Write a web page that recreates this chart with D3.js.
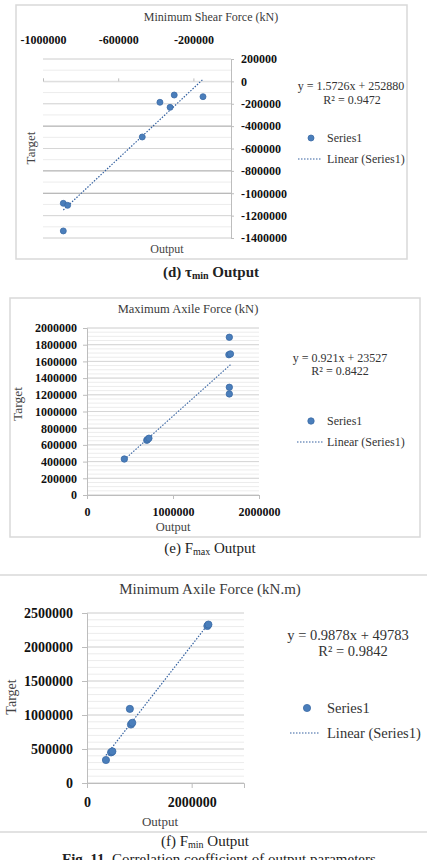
<!DOCTYPE html>
<html>
<head>
<meta charset="utf-8">
<script src="https://cdn.jsdelivr.net/npm/d3@7"></script>
<style>
  body { margin: 0; background: #fff; }
  svg { display: block; font-family: "Liberation Serif", "Times New Roman", serif; }
  .tick text { font-family: "Liberation Serif", "Times New Roman", serif; font-weight: bold; fill: #111; }
</style>
</head>
<body>
<div id="chart"></div>
<script>
// (d) Minimum shear force
const shearOutput = [-892000, -869000, -892000, -472000, -378000, -324000, -302000, -149000];
const shearTarget = [-1090000, -1108000, -1337000, -497000, -187000, -232000, -122000, -137000];
const shearXTicks = [-1000000, -600000, -200000];
const shearYTicks = [200000, 0, -200000, -400000, -600000, -800000, -1000000, -1200000, -1400000];
const shearFit = [1.5726, 252880];
const shearR2 = 0.9472;

// (e) Maximum axile force
const maxOutput = [434000, 695000, 705000, 720000, 1655000, 1650000, 1668000, 1655000, 1655000];
const maxTarget = [431000, 655000, 665000, 680000, 1889000, 1680000, 1690000, 1290000, 1210000];
const maxXTicks = [0, 1000000, 2000000];
const maxYTicks = [0, 200000, 400000, 600000, 800000, 1000000, 1200000, 1400000, 1600000, 1800000, 2000000];
const maxFit = [0.921, 23527];
const maxR2 = 0.8422;

// (f) Minimum axile force
const minOutput = [362000, 460000, 485000, 819000, 840000, 865000, 2300000, 2320000];
const minTarget = [338000, 450000, 465000, 1090000, 860000, 885000, 2310000, 2330000];
const minXTicks = [0, 2000000];
const minYTicks = [0, 500000, 1000000, 1500000, 2000000, 2500000];
const minFit = [0.9878, 49783];
const minR2 = 0.9842;

const W = 427, H = 860;
const dotFill = "#4a7ebb", dotStroke = "#3b6ba6", trendColor = "#3461a0";

const svg = d3.select("#chart").append("svg")
  .attr("width", W)
  .attr("height", H);

function styleAxis(axisG, size, domainColor) {
  axisG.attr("font-family", null).attr("font-size", null);
  axisG.select(".domain").attr("stroke", domainColor);
  axisG.selectAll(".tick line").attr("stroke", "#bdbdbd");
  axisG.selectAll("text").style("font-size", size + "px");
}

function drawPanel(c) {
  const x = d3.scaleLinear().domain(c.xDomain).range([c.left, c.right]);
  const y = d3.scaleLinear().domain(c.yDomain).range([c.bottom, c.top]);
  const g = svg.append("g");

  // outer frame
  g.append("rect")
    .attr("x", c.frame[0]).attr("y", c.frame[1])
    .attr("width", c.frame[2] - c.frame[0]).attr("height", c.frame[3] - c.frame[1])
    .attr("fill", "none").attr("stroke", "#d9d9d9").attr("stroke-width", 1.5);

  // gridlines, minor then major
  g.append("g").selectAll("line")
    .data(d3.range(c.yDomain[0], c.yDomain[1] + 1, c.minor))
    .join("line")
    .attr("x1", c.left).attr("x2", c.right)
    .attr("y1", d => y(d)).attr("y2", d => y(d))
    .attr("stroke", "#ececec");
  g.append("g").selectAll("line")
    .data(c.yTicks)
    .join("line")
    .attr("x1", c.left).attr("x2", c.right)
    .attr("y1", d => y(d)).attr("y2", d => y(d))
    .attr("stroke", d => (c.darkGrid || []).includes(d) ? "#a8a8a8" : "#d6d6d6");

  const fmt = d => String(d);

  if (c.flipped) {
    // x axis crosses at y = 0, labels pushed up above the plot
    const y0 = y(0);
    const xAxisG = g.append("g")
      .attr("transform", `translate(0,${y0})`)
      .call(d3.axisTop(x).tickValues(c.xTicks).tickSize(3).tickFormat(fmt));
    styleAxis(xAxisG, c.tickSize, "#e2e2e2");
    xAxisG.selectAll("text").attr("y", c.xLabelY - y0).attr("dy", "0.35em");

    const yAxisG = g.append("g")
      .attr("transform", `translate(${c.right},0)`)
      .call(d3.axisRight(y).tickValues(c.yTicks).tickSize(3).tickPadding(7).tickFormat(fmt));
    styleAxis(yAxisG, c.tickSize, "#bdbdbd");
  } else {
    const xAxisG = g.append("g")
      .attr("transform", `translate(0,${c.bottom})`)
      .call(d3.axisBottom(x).tickValues(c.xTicks).tickSize(c.tickLen).tickPadding(c.xPad).tickFormat(fmt));
    styleAxis(xAxisG, c.tickSize, "#bdbdbd");

    const yAxisG = g.append("g")
      .attr("transform", `translate(${c.left},0)`)
      .call(d3.axisLeft(y).tickValues(c.yTicks).tickSize(c.tickLen).tickPadding(c.yPad).tickFormat(fmt));
    styleAxis(yAxisG, c.tickSize, "#bdbdbd");
  }

  // linear trendline over the data range
  const [a, b] = c.fit;
  const xr = d3.extent(c.xs);
  g.append("line")
    .attr("x1", x(xr[0])).attr("y1", y(a * xr[0] + b))
    .attr("x2", x(xr[1])).attr("y2", y(a * xr[1] + b))
    .attr("stroke", trendColor).attr("stroke-width", 1.2)
    .attr("stroke-dasharray", "1.5,1.5");

  // points
  g.append("g").selectAll("circle")
    .data(d3.zip(c.xs, c.ys))
    .join("circle")
    .attr("cx", d => x(d[0]))
    .attr("cy", d => y(d[1]))
    .attr("r", c.r)
    .attr("fill", dotFill)
    .attr("stroke", dotStroke).attr("stroke-width", 0.8);

  // titles
  g.append("text")
    .attr("x", c.title[0]).attr("y", c.title[1])
    .attr("text-anchor", "middle").attr("fill", "#3a3a3a")
    .style("font-size", c.titleSize + "px")
    .text(c.titleText);
  g.append("text")
    .attr("x", c.xTitle[0]).attr("y", c.xTitle[1])
    .attr("text-anchor", "middle").attr("fill", "#444")
    .style("font-size", c.axisTitleSize + "px")
    .text("Output");
  g.append("text")
    .attr("transform", `translate(${c.yTitle[0]},${c.yTitle[1]}) rotate(-90)`)
    .attr("text-anchor", "middle").attr("dy", "0.35em").attr("fill", "#444")
    .style("font-size", c.axisTitleSize + 1 + "px")
    .text("Target");

  // equation + legend
  g.append("text")
    .attr("x", c.eq[0]).attr("y", c.eq[1])
    .attr("text-anchor", "middle").attr("fill", "#333")
    .style("font-size", c.legendSize + "px")
    .text(`y = ${a}x + ${b}`);
  g.append("text")
    .attr("x", c.r2[0]).attr("y", c.r2[1])
    .attr("text-anchor", "middle").attr("fill", "#333")
    .style("font-size", c.legendSize + "px")
    .text(`R² = ${c.r2Val}`);

  g.append("circle")
    .attr("cx", c.legDot[0]).attr("cy", c.legDot[1]).attr("r", c.r)
    .attr("fill", dotFill).attr("stroke", dotStroke).attr("stroke-width", 0.8);
  g.append("text")
    .attr("x", c.legText).attr("y", c.legDot[1]).attr("dy", "0.35em")
    .attr("fill", "#333").style("font-size", c.legendSize + "px")
    .text("Series1");
  g.append("line")
    .attr("x1", c.legLine[0]).attr("x2", c.legLine[1])
    .attr("y1", c.legLine[2]).attr("y2", c.legLine[2])
    .attr("stroke", trendColor).attr("stroke-width", 1.2)
    .attr("stroke-dasharray", "1.5,1.5");
  g.append("text")
    .attr("x", c.legText).attr("y", c.legLine[2]).attr("dy", "0.35em")
    .attr("fill", "#333").style("font-size", c.legendSize + "px")
    .text("Linear (Series1)");

  // caption below the frame
  const cap = g.append("text")
    .attr("x", c.caption[0]).attr("y", c.caption[1])
    .attr("text-anchor", "middle").attr("fill", "#222")
    .style("font-size", "15px")
    .style("font-weight", c.captionBold ? "bold" : "normal");
  cap.append("tspan").text(c.captionParts[0]);
  cap.append("tspan").attr("dy", 2).style("font-size", "10px").text(c.captionParts[1]);
  cap.append("tspan").attr("dy", -2).text(" Output");
}

drawPanel({
  frame: [16, 5, 407, 259],
  left: 43, right: 231, top: 59, bottom: 238,
  xDomain: [-1000000, 0], yDomain: [-1400000, 200000],
  xTicks: shearXTicks, yTicks: shearYTicks, minor: 100000,
  darkGrid: [-400000, -800000, -1000000],
  flipped: true, xLabelY: 40, tickSize: 12,
  xs: shearOutput, ys: shearTarget, fit: shearFit, r2Val: shearR2, r: 3,
  titleText: "Minimum Shear Force (kN)", title: [211, 21], titleSize: 12,
  xTitle: [167, 253], yTitle: [30, 148], axisTitleSize: 12,
  eq: [351, 90], r2: [352, 104], legendSize: 12,
  legDot: [311, 138], legText: 327, legLine: [298, 322, 159],
  caption: [211, 277], captionParts: ["(d) τ", "min"], captionBold: true
});

drawPanel({
  frame: [10, 298, 420, 537],
  left: 87, right: 259, top: 328, bottom: 495,
  xDomain: [0, 2000000], yDomain: [0, 2000000],
  xTicks: maxXTicks, yTicks: maxYTicks, minor: 50000,
  tickLen: 4, xPad: 8, yPad: 6, tickSize: 12,
  xs: maxOutput, ys: maxTarget, fit: maxFit, r2Val: maxR2, r: 3.2,
  titleText: "Maximum Axile Force (kN)", title: [188, 313], titleSize: 12.5,
  xTitle: [173, 531], yTitle: [17, 404], axisTitleSize: 12.5,
  eq: [340, 362], r2: [340, 375], legendSize: 12,
  legDot: [311, 421], legText: 327, legLine: [297, 323, 442],
  caption: [210, 553], captionParts: ["(e) F", "max"], captionBold: false
});

drawPanel({
  frame: [-1, 575, 428, 832],
  left: 87, right: 244, top: 613, bottom: 783,
  xDomain: [0, 3000000], yDomain: [0, 2500000],
  xTicks: minXTicks, yTicks: minYTicks, minor: 100000,
  tickLen: 5, xPad: 9, yPad: 9, tickSize: 14,
  xs: minOutput, ys: minTarget, fit: minFit, r2Val: minR2, r: 3.6,
  titleText: "Minimum Axile Force (kN.m)", title: [210, 594], titleSize: 15,
  xTitle: [160, 826], yTitle: [11, 697], axisTitleSize: 13,
  eq: [348, 640], r2: [353, 656], legendSize: 14.5,
  legDot: [307, 708], legText: 327, legLine: [290, 320, 733],
  caption: [205, 846], captionParts: ["(f) F", "min"], captionBold: false
});

// figure caption, partly cut at the bottom edge as in the source
const fig = svg.append("text")
  .attr("x", 62).attr("y", 864)
  .attr("fill", "#222").style("font-size", "15px");
fig.append("tspan").style("font-weight", "bold").text("Fig. 11.");
fig.append("tspan").text(" Correlation coefficient of output parameters");
</script>
</body>
</html>
